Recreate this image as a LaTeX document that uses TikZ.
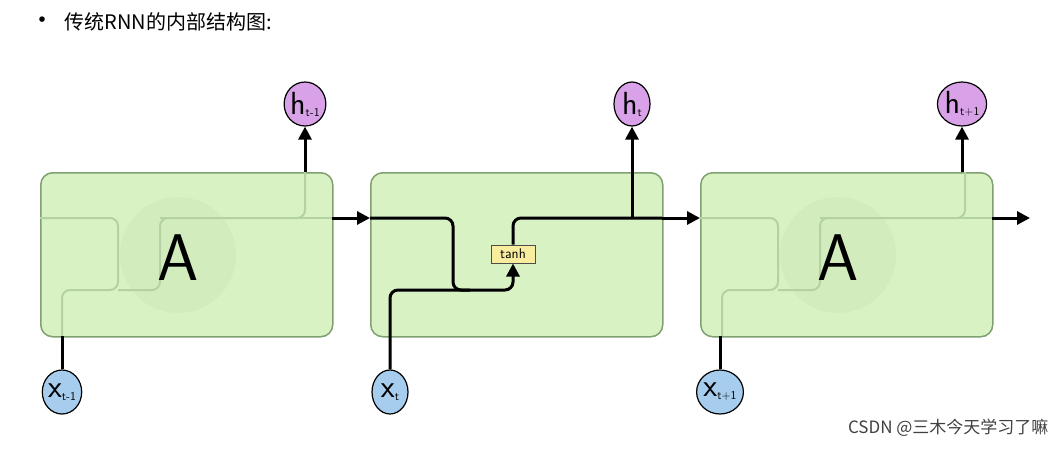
\documentclass[tikz,border=0pt]{standalone}
\usepackage{fontspec}
\setmainfont{Liberation Sans}
\newfontfamily\cjk{Noto Sans CJK SC}
\usetikzlibrary{arrows.meta,shapes.geometric}
\definecolor{boxg}{HTML}{D8F2C4}
\definecolor{boxb}{HTML}{7FA070}
\definecolor{hpur}{HTML}{D9A2E8}
\definecolor{xblu}{HTML}{A7CDEE}
\definecolor{tanhy}{HTML}{F8EC9E}
\begin{document}
\begin{tikzpicture}[x=1pt,y=-1pt,
  cell/.style={draw=boxb,fill=boxg,line width=1.5pt,rounded corners=12pt,minimum width=292pt,minimum height=164pt,anchor=north west},
  hn/.style={ellipse,draw=black,fill=hpur,line width=1.2pt,minimum width=36pt,minimum height=44pt,inner sep=0pt,font=\sffamily\fontsize{32}{32}\selectfont},
  xn/.style={ellipse,draw=black,fill=xblu,line width=1.2pt,minimum width=36pt,minimum height=44pt,inner sep=0pt,font=\sffamily\fontsize{32}{32}\selectfont},
  wire/.style={line width=3pt,rounded corners=8pt},
  arr/.style={wire,-{Triangle[length=13pt,width=13pt]}},
  faint/.style={draw=boxb!40!boxg,line width=2pt,rounded corners=8pt}]
\useasboundingbox (0,0) rectangle (1064,448);
\node[font=\fontsize{20}{20}\selectfont\cjk,anchor=west] (title) at (26,22) {{\fontsize{26}{20}\selectfont •}\ \ 传统RNN的内部结构图:};
\node[cell] (c1) at (40,172) {};
\node[cell] (c2) at (370,172) {};
\node[cell] (c3) at (700,172) {};
\foreach \o in {0,660}{
  \fill[boxb!7!boxg] (178+\o,255) circle (58);
  \draw[faint] (40+\o,218) -- (118+\o,218) -- (118+\o,290) -- (62+\o,290) -- (62+\o,336);
  \draw[faint] (118+\o,290) -- (160+\o,290) -- (160+\o,218) -- (305+\o,218) -- (305+\o,172);
  \draw[faint] (160+\o,218) -- (332+\o,218);
}
\node[font=\sffamily\fontsize{66}{66}\selectfont] (A1) at (178,258) {A};
\node[font=\sffamily\fontsize{66}{66}\selectfont] (A3) at (838,258) {A};
\node[hn] (h1) at (305,104) {h\raisebox{-2pt}{\fontsize{12}{12}\selectfont t-1}};
\node[hn] (h2) at (632,104) {h\raisebox{-2pt}{\fontsize{12}{12}\selectfont t}};
\node[hn] (h3) at (962,104) {h\raisebox{-2pt}{\fontsize{12}{12}\selectfont t+1}};
\node[xn] (x1) at (62,392) {x\raisebox{-3pt}{\fontsize{12}{12}\selectfont t-1}};
\node[xn] (x2) at (390,392) {x\raisebox{-3pt}{\fontsize{12}{12}\selectfont t}};
\node[xn] (x3) at (720,392) {x\raisebox{-3pt}{\fontsize{12}{12}\selectfont t+1}};
\node[draw=black!70,fill=tanhy,line width=1pt,minimum width=44pt,minimum height=18pt,inner sep=1pt,font=\sffamily\fontsize{14}{14}\selectfont] (tanh) at (513,254) {tanh};
\coordinate (e3) at (1030,218);
\draw[arr] (305,172) -- (h1);
\draw[arr] (962,172) -- (h3);
\draw[arr] (332,218) -- (370,218);
\draw[arr] (662,218) -- (700,218);
\draw[arr] (992,218) -- (e3);
\draw[wire] (x1) -- (62,336);
\draw[wire] (x3) -- (720,336);
\draw[wire] (370,218) -- (453,218) -- (453,290) -- (470,290);
\draw[arr] (x2) -- (390,290) -- (513,290) -- (tanh.south);
\draw[wire] (tanh.north) -- (513,218) -- (662,218);
\draw[arr] (632,218) -- (h2);
\node[font=\fontsize{17}{17}\selectfont\cjk,text=black!75,anchor=east] (wm) at (1052,428) {CSDN @三木今天学习了嘛};
\end{tikzpicture}
\end{document}
